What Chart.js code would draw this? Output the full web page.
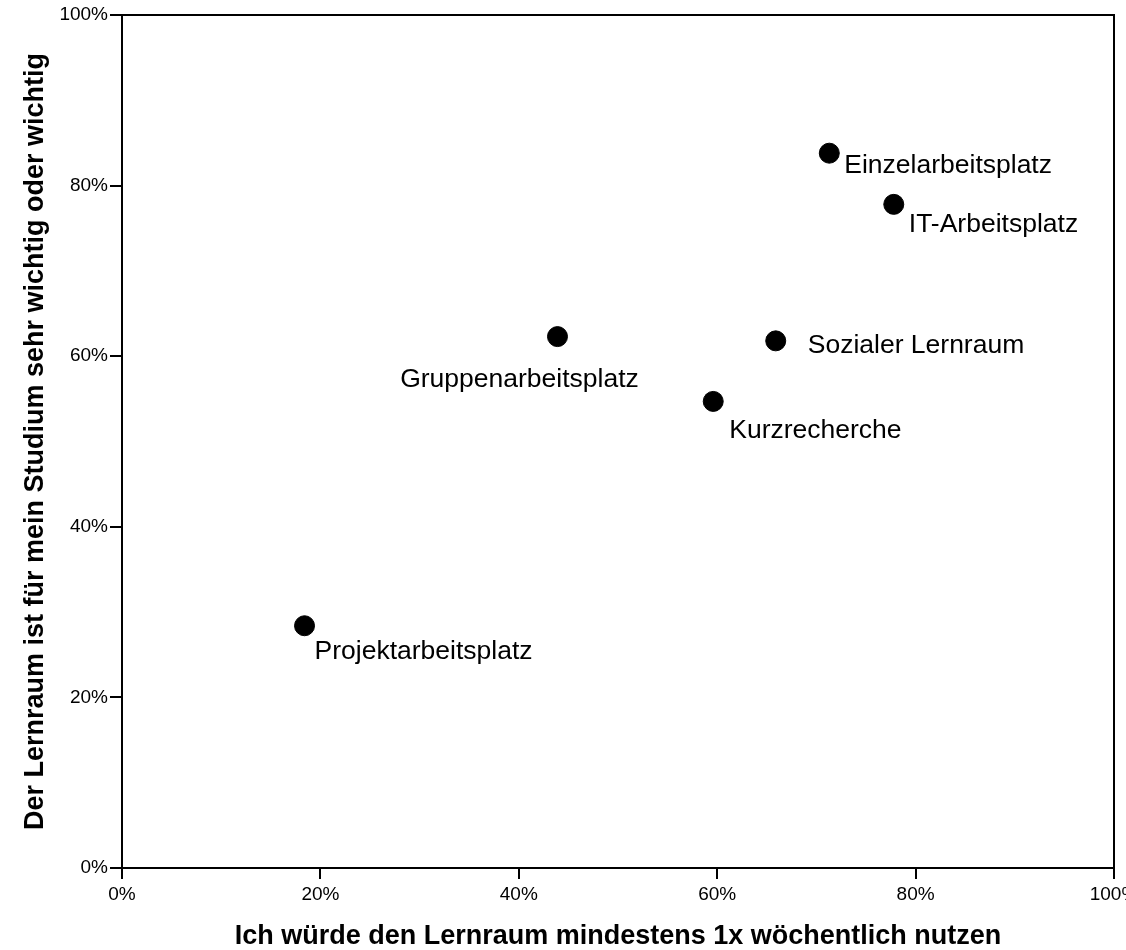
<!DOCTYPE html>
<html>
<head>
<meta charset="utf-8">
<script src="https://cdn.jsdelivr.net/npm/chart.js@4"></script>
<style>
  html,body{margin:0;padding:0;background:#fff;}
  #c{display:block;}
</style>
</head>
<body>
<canvas id="c" width="1126" height="950"></canvas>
<script>
// Lernraum: Nutzung vs. Wichtigkeit (in %)
const names = ['Einzelarbeitsplatz','IT-Arbeitsplatz','Sozialer Lernraum','Gruppenarbeitsplatz','Kurzrecherche','Projektarbeitsplatz'];
const weeklyUse = [71.3, 77.8, 65.9, 43.9, 59.6, 18.4];
const importance = [83.8, 77.8, 61.8, 62.3, 54.7, 28.4];

const xTitle = 'Ich würde den Lernraum mindestens 1x wöchentlich nutzen';
const yTitle = 'Der Lernraum ist für mein Studium sehr wichtig oder wichtig';

// label placement relative to the dot (px), align of the text
const labelOffsets = [
  {dx:15, dy:20, align:'left'},
  {dx:15, dy:28, align:'left'},
  {dx:32, dy:12, align:'left'},
  {dx:-38, dy:50, align:'center'},
  {dx:16, dy:37, align:'left'},
  {dx:10, dy:33, align:'left'}
];

const FONT = '"Liberation Sans", Arial, sans-serif';

const boxPlugin = {
  id:'box',
  afterDraw(chart){
    const {ctx, chartArea:a} = chart;
    ctx.save();
    ctx.strokeStyle = '#000';
    ctx.lineWidth = 2;
    ctx.beginPath();
    ctx.moveTo(a.left, a.top); ctx.lineTo(a.right, a.top); ctx.lineTo(a.right, a.bottom);
    ctx.stroke();
    ctx.restore();
  }
};

const labelPlugin = {
  id:'pointLabels',
  afterDatasetsDraw(chart){
    const ctx = chart.ctx;
    const meta = chart.getDatasetMeta(0);
    ctx.save();
    ctx.font = '26.5px ' + FONT;
    ctx.fillStyle = '#000';
    ctx.textBaseline = 'alphabetic';
    meta.data.forEach((pt,i)=>{
      const o = labelOffsets[i];
      ctx.textAlign = o.align;
      ctx.fillText(names[i], pt.x + o.dx, pt.y + o.dy);
    });
    ctx.restore();
  }
};

new Chart(document.getElementById('c'), {
  type:'scatter',
  data:{
    datasets:[{
      data: weeklyUse.map((v,i)=>({x:v, y:importance[i]})),
      backgroundColor:'#000',
      borderColor:'#000',
      pointRadius:10,
      pointHoverRadius:10
    }]
  },
  options:{
    responsive:false,
    animation:false,
    layout:{padding:{top:15, right:12, left:0, bottom:0}},
    plugins:{legend:{display:false}, tooltip:{enabled:false}},
    scales:{
      x:{
        type:'linear', min:0, max:100,
        ticks:{stepSize:20, padding:4, color:'#000', font:{family:FONT, size:19}, callback:v=>v+'%', maxRotation:0},
        grid:{drawOnChartArea:false, drawTicks:true, tickLength:11, color:'#000', lineWidth:2},
        border:{display:true, color:'#000', width:2},
        title:{display:true, text:xTitle, color:'#000', font:{family:FONT, size:27, weight:'bold'}, padding:{top:0, bottom:-3}},
        afterFit(s){ s.height = 82; s.paddingLeft = 0; s.paddingRight = 0; }
      },
      y:{
        type:'linear', min:0, max:100,
        ticks:{stepSize:20, padding:2, color:'#000', font:{family:FONT, size:19}, callback:v=>v+'%'},
        grid:{drawOnChartArea:false, drawTicks:true, tickLength:12, color:'#000', lineWidth:2},
        border:{display:true, color:'#000', width:2},
        title:{display:true, text:yTitle, color:'#000', font:{family:FONT, size:27, weight:'bold'}, padding:{top:19, bottom:0}},
        afterFit(s){ s.width = 122; s.paddingTop = 0; s.paddingBottom = 0; }
      }
    }
  },
  plugins:[boxPlugin, labelPlugin]
});
</script>
</body>
</html>
